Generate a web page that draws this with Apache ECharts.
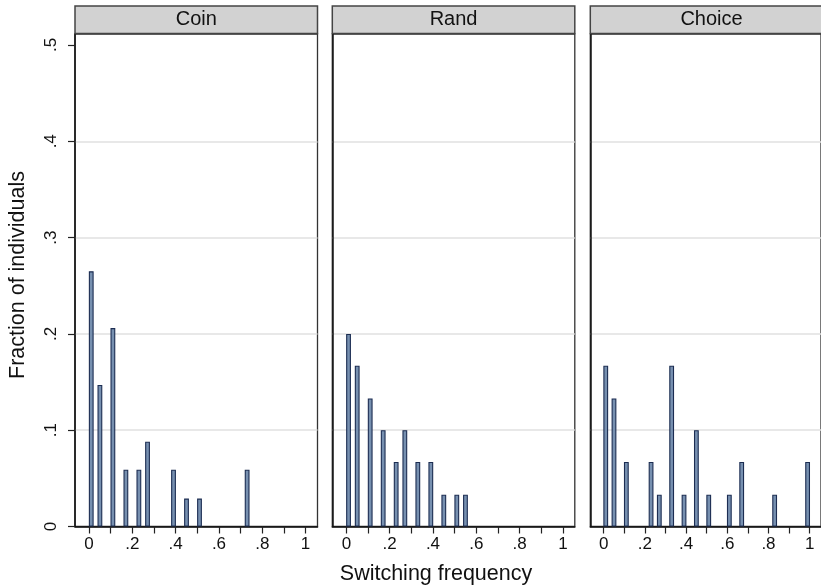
<!DOCTYPE html>
<html>
<head>
<meta charset="utf-8">
<script src="https://cdn.jsdelivr.net/npm/echarts@6/dist/echarts.min.js"></script>
<style>
  html, body { margin: 0; padding: 0; background: #fff; }
  #chart { width: 821px; height: 588px; }
</style>
</head>
<body>
<div id="chart"></div>
<script>
// panels
var panelNames = ["Coin", "Rand", "Choice"];

// bar centres (bin width .02) and fraction of individuals
var coinX = [0.01, 0.05, 0.11, 0.17, 0.23, 0.27, 0.39, 0.45, 0.51, 0.73];
var coinY = [0.265, 0.147, 0.206, 0.059, 0.059, 0.088, 0.059, 0.029, 0.029, 0.059];
var randX = [0.01, 0.05, 0.11, 0.17, 0.23, 0.27, 0.33, 0.39, 0.45, 0.51, 0.55];
var randY = [0.2, 0.167, 0.133, 0.1, 0.067, 0.1, 0.067, 0.067, 0.033, 0.033, 0.033];
var choiceX = [0.01, 0.05, 0.11, 0.23, 0.27, 0.33, 0.39, 0.45, 0.51, 0.61, 0.67, 0.83, 0.99];
var choiceY = [0.167, 0.133, 0.067, 0.067, 0.033, 0.167, 0.033, 0.1, 0.033, 0.033, 0.067, 0.033, 0.067];

// ticks
var xTickValues = [0, 0.1, 0.2, 0.3, 0.4, 0.5, 0.6, 0.7, 0.8, 0.9, 1];
var xLabelValues = [0, 0.2, 0.4, 0.6, 0.8, 1];
var xLabelText = ["0", ".2", ".4", ".6", ".8", "1"];
var yTickValues = [0, 0.1, 0.2, 0.3, 0.4, 0.5];
var yLabelText = ["0", ".1", ".2", ".3", ".4", ".5"];
var yGridValues = [0.1, 0.2, 0.3, 0.4];

var xTitle = "Switching frequency";
var yTitle = "Fraction of individuals";

(function() {
    var FONT = "'Liberation Sans', Arial, Helvetica, sans-serif";

    function pickLabel(values, texts) {
        return function(v) {
            for (var i = 0; i < values.length; i++) {
                if (Math.abs(values[i] - v) < 1e-9) return texts[i];
            }
            return "";
        };
    }

    var panelData = [
        { x: coinX, y: coinY },
        { x: randX, y: randY },
        { x: choiceX, y: choiceY }
    ];

    var lefts = [75, 332.3, 590.3];
    var panelW = 242.5;
    var plotTop = 34;
    var plotH = 492.5;

    var grids = [], xAxes = [], yAxes = [], series = [], graphics = [];

    lefts.forEach(function(left, i) {
        grids.push({
            left: left,
            top: plotTop,
            width: panelW,
            height: plotH,
            show: true,
            borderColor: "#333",
            borderWidth: 1.3
        });
        xAxes.push({
            type: "value",
            gridIndex: i,
            min: -0.065,
            max: 1.055,
            axisLine: { show: true, onZero: false, lineStyle: { color: "#111", width: 1.5 } },
            axisTick: {
                show: true,
                length: 7,
                customValues: xTickValues,
                lineStyle: { color: "#222", width: 1.2 }
            },
            axisLabel: {
                customValues: xLabelValues,
                formatter: pickLabel(xLabelValues, xLabelText),
                color: "#111",
                fontFamily: FONT,
                fontSize: 17,
                margin: 9
            },
            splitLine: { show: false }
        });
        // labelled axis
        yAxes.push({
            type: "value",
            gridIndex: i,
            min: 0,
            max: 0.5114,
            axisLine: { show: true, onZero: false, lineStyle: { color: "#111", width: 1.5 } },
            axisTick: {
                show: i === 0,
                length: 7,
                customValues: yTickValues,
                lineStyle: { color: "#222", width: 1.2 }
            },
            axisLabel: {
                show: i === 0,
                customValues: yTickValues,
                formatter: pickLabel(yTickValues, yLabelText),
                rotate: 90,
                color: "#111",
                fontFamily: FONT,
                fontSize: 17,
                margin: 15
            },
            splitLine: { show: false }
        });
        // grid lines only
        yAxes.push({
            type: "value",
            gridIndex: i,
            min: 0,
            max: 0.5114,
            axisLine: { show: false, onZero: false },
            axisTick: { show: false, customValues: yGridValues },
            axisLabel: { show: false, customValues: yGridValues },
            splitLine: { show: true, lineStyle: { color: "#e1e1e1", width: 1.5 } }
        });

        var d = panelData[i];
        series.push({
            type: "bar",
            name: panelNames[i],
            xAxisIndex: i,
            yAxisIndex: i * 2,
            barWidth: 4.8,
            z: 3,
            itemStyle: { color: "#7790b0", borderColor: "#1c2d52", borderWidth: 1.1 },
            data: d.x.map(function(x, k) { return [x, d.y[k]]; })
        });

        graphics.push({
            type: "rect",
            shape: { x: left, y: 6, width: panelW, height: 27.5 },
            style: { fill: "#d2d2d2", stroke: "#444", lineWidth: 1.5 },
            z: 10
        });
        graphics.push({
            type: "text",
            x: left + panelW / 2,
            y: 19.5,
            style: {
                text: panelNames[i],
                fill: "#111",
                font: "20px " + FONT,
                align: "center",
                verticalAlign: "middle"
            },
            z: 11
        });
    });

    graphics.push({
        type: "text",
        x: 436,
        y: 574,
        style: { text: xTitle, fill: "#111", font: "21.5px " + FONT, align: "center", verticalAlign: "middle" }
    });
    graphics.push({
        type: "text",
        x: 18,
        y: 275,
        rotation: Math.PI / 2,
        style: { text: yTitle, fill: "#111", font: "21.5px " + FONT, align: "center", verticalAlign: "middle" }
    });

    var myChart = echarts.init(document.getElementById("chart"), null, { renderer: "canvas" });
    myChart.setOption({
        animation: false,
        backgroundColor: "#fff",
        grid: grids,
        xAxis: xAxes,
        yAxis: yAxes,
        series: series,
        graphic: graphics
    });
})();
</script>
</body>
</html>
